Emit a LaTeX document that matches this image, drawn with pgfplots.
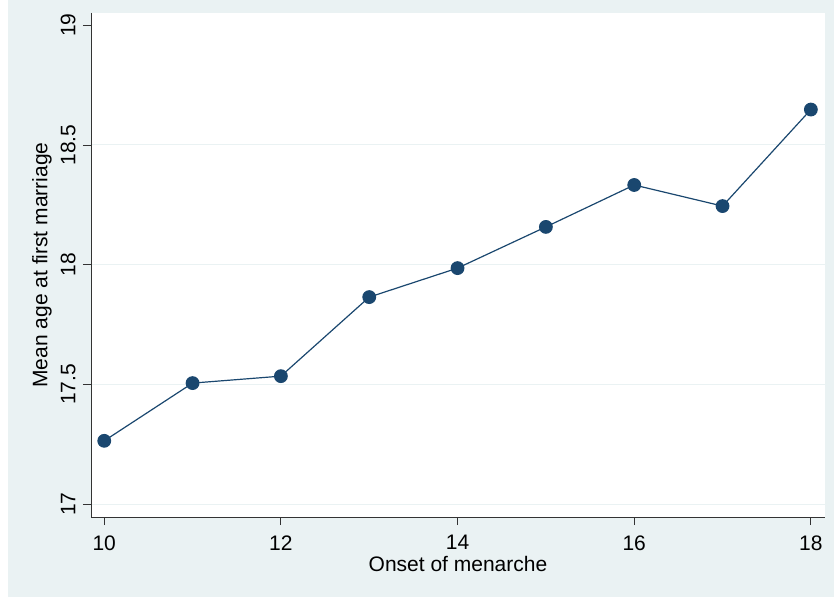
\documentclass[border=0pt]{standalone}
\usepackage{pgfplots}
\pgfplotsset{compat=1.18}
\usepackage{fontspec}
\setmainfont{Liberation Sans}
\definecolor{bgc}{HTML}{EAF2F3}
\definecolor{navy}{HTML}{1A476F}
\definecolor{gridc}{HTML}{EAF2F3}
\begin{document}
\begin{tikzpicture}
\fill[white] (-91bp,-80bp) rectangle (743bp,517bp);
\fill[bgc] (-83bp,-80bp) rectangle (743bp,517bp);
\fill[white] (0,0) rectangle (734bp,504bp);
\begin{axis}[
  at={(0,0)}, anchor=south west,
  scale only axis, width=734bp, height=504bp,
  xmin=9.85, xmax=18.16, ymin=16.947, ymax=19.051,
  axis line style={draw=none},
  xtick={10,12,14,16,18},
  ytick={17,17.5,18,18.5},
  extra y ticks={19},
  extra y tick style={grid=none},
  ymajorgrids,
  grid style={line width=1pt, gridc},
  xtick pos=bottom, ytick pos=left,
  tick align=outside,
  major tick length=8bp,
  major tick style={draw=black!80, line width=0.9pt},
  font=\fontsize{21bp}{24bp}\selectfont,
  /pgf/number format/assume math mode=true,
  yticklabel style={rotate=90, anchor=south, yshift=4bp},
  xticklabel style={yshift=-7bp},
  xlabel={Onset of menarche},
  ylabel={Mean age at first marriage},
  xlabel style={yshift=1bp},
  ylabel style={yshift=-14bp},
  clip=false,
]
\draw[black!80, line width=0.9pt] (rel axis cs:0,1) -- (rel axis cs:0,0) -- (rel axis cs:1,0);
\pgfplotsinvokeforeach{10,12,14,16,18}{
  \draw[black!80, line width=0.9pt] (axis cs:#1,16.947) -- ([yshift=-8bp]axis cs:#1,16.947);
}
\pgfplotsinvokeforeach{17,17.5,18,18.5,19}{
  \draw[black!80, line width=0.9pt] (axis cs:9.85,#1) -- ([xshift=-8bp]axis cs:9.85,#1);
}
\addplot[navy, line width=1.2pt, mark=*, mark size=6.3bp, mark options={fill=navy, draw=navy}]
coordinates {
(10,17.265) (11,17.506) (12,17.535) (13,17.865) (14,17.986)
(15,18.158) (16,18.333) (17,18.245) (18,18.648)
};
\end{axis}
\pgfresetboundingbox
\useasboundingbox (-91bp,-80bp) rectangle (743bp,517bp);
\end{tikzpicture}
\end{document}
